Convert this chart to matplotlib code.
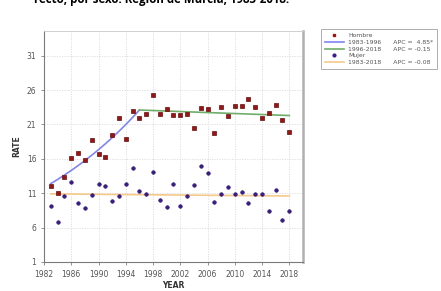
import numpy as np
import matplotlib
matplotlib.use("Agg")
import matplotlib.pyplot as plt
from matplotlib.lines import Line2D

# datos observados (tasas) por sexo
years = list(range(1983, 2019))
hombre = [12.1, 11.1, 13.4, 16.1, 16.8, 15.9, 18.7, 16.7, 16.3, 19.4,
          21.9, 18.9, 22.9, 21.9, 22.5, 25.3, 22.5, 23.3, 22.4, 22.4,
          22.5, 20.5, 23.4, 23.2, 19.8, 23.5, 22.3, 23.7, 23.7, 24.7,
          23.5, 21.9, 22.7, 23.9, 21.6, 19.9]
mujer = [9.15, 6.8, 10.65, 12.6, 9.6, 8.9, 10.8, 12.4, 12.1, 9.8,
         10.65, 12.3, 14.7, 11.3, 10.95, 14.1, 10.0, 9.0, 12.35, 9.2,
         10.6, 12.25, 15.0, 13.9, 9.7, 10.9, 11.9, 10.9, 11.2, 9.6,
         10.9, 10.95, 8.4, 11.5, 7.1, 8.4]

# tendencias joinpoint (valores en los puntos de union)
hombre_joint_years = [1983, 1996, 2018]
hombre_joint_rates = [12.4, 23.1, 22.3]
mujer_joint_years = [1983, 2018]
mujer_joint_rates = [10.9, 10.6]

seg_labels = ["1983-1996", "1996-2018", "1983-2018"]
apc_labels = ["APC =  4.85*", "APC = -0.15", "APC = -0.08"]

xticks = list(range(1982, 2019, 4))
yticks = [1, 6, 11, 16, 21, 26, 31]

c_hombre = "#9b1414"
c_mujer = "#3b1c8c"
c_seg = ["#7f86f2", "#6fae6a", "#f5c98a"]


def segment(y0, y1, r0, r1):
    # tramo log-lineal entre dos puntos de union
    xs = np.linspace(y0, y1, 50)
    rs = np.exp(np.interp(xs, [y0, y1], [np.log(r0), np.log(r1)]))
    return xs, rs


fig = plt.figure(figsize=(4.41, 2.91), dpi=100)
ax = fig.add_axes([0.0998, 0.0997, 0.587, 0.794])

ax.grid(True, color="#dcdcdc", linestyle=(0, (1.5, 1.5)), linewidth=0.6)
ax.set_axisbelow(True)

xs, rs = segment(hombre_joint_years[0], hombre_joint_years[1],
                 hombre_joint_rates[0], hombre_joint_rates[1])
ax.plot(xs, rs, color=c_seg[0], lw=1.2)
xs, rs = segment(hombre_joint_years[1], hombre_joint_years[2],
                 hombre_joint_rates[1], hombre_joint_rates[2])
ax.plot(xs, rs, color=c_seg[1], lw=1.2)
xs, rs = segment(mujer_joint_years[0], mujer_joint_years[1],
                 mujer_joint_rates[0], mujer_joint_rates[1])
ax.plot(xs, rs, color=c_seg[2], lw=1.2)

ax.plot(years, hombre, ls="none", marker="s", ms=2.8, color=c_hombre,
        mec="#6a0d0d", mew=0.5)
ax.plot(years, mujer, ls="none", marker="o", ms=2.6, color=c_mujer,
        mec="#2a1066", mew=0.4)

ax.set_xlim(1982, 2020)
ax.set_ylim(1, 34.6)
ax.set_xticks(xticks)
ax.set_yticks(yticks)
ax.tick_params(labelsize=5.5, colors="#666666", length=2, width=0.5)
for lab in ax.get_xticklabels() + ax.get_yticklabels():
    lab.set_color("#555555")

for s in ["left", "bottom"]:
    ax.spines[s].set_color("#7a7a7a")
    ax.spines[s].set_linewidth(0.8)
ax.spines["top"].set_color("#c8c8c8")
ax.spines["top"].set_linewidth(0.6)
ax.spines["right"].set_color("#b0b0b0")
ax.spines["right"].set_linewidth(1.8)

ax.set_xlabel("YEAR", fontsize=5.5, fontweight="bold", color="#333333", labelpad=2)
ax.set_ylabel("RATE", fontsize=5.5, fontweight="bold", color="#333333", labelpad=4)

handles = [
    Line2D([], [], ls="none", marker="s", ms=2.0, color=c_hombre),
    Line2D([], [], color=c_seg[0], lw=1.2),
    Line2D([], [], color=c_seg[1], lw=1.2),
    Line2D([], [], ls="none", marker="o", ms=2.0, color=c_mujer),
    Line2D([], [], color=c_seg[2], lw=1.2),
]
labels = [
    "Hombre",
    seg_labels[0] + "      " + apc_labels[0],
    seg_labels[1] + "      " + apc_labels[1],
    "Mujer",
    seg_labels[2] + "      " + apc_labels[2],
]
leg = fig.legend(handles, labels, loc="upper left", bbox_to_anchor=(0.728, 0.90),
                 fontsize=4.4, frameon=True, fancybox=False, edgecolor="#8a8a8a",
                 handlelength=3.2, handletextpad=0.6, borderpad=0.6,
                 labelspacing=0.25, borderaxespad=0)
leg.get_frame().set_linewidth(0.6)
for t in leg.get_texts():
    t.set_color("#555555")

fig.text(0.078, 1.0, "recto, por sexo. Región de Murcia, 1983-2018.",
         fontsize=8.3, fontweight="bold", family="Open Sans", va="center", ha="left")

fig.savefig("out.png", dpi=100)
